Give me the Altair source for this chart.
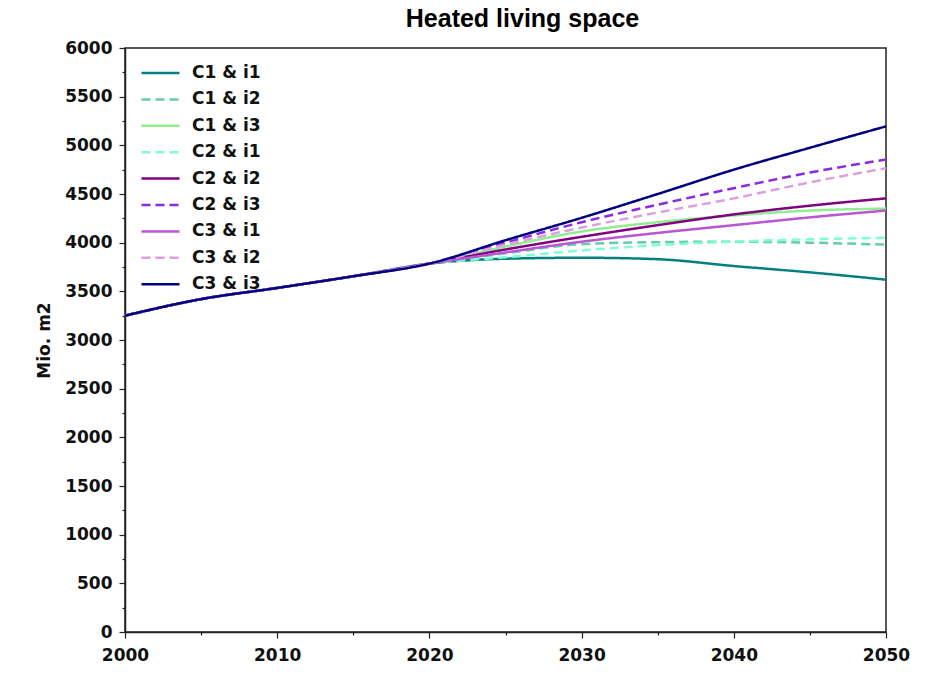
import altair as alt
import pandas as pd

# ---- data ----
hist_years = [2000, 2005, 2010, 2015, 2020]
hist_values = [3250, 3420, 3535, 3655, 3785]

future_years = [2025, 2030, 2035, 2040, 2045, 2050]

series_names = ["C1 & i1", "C1 & i2", "C1 & i3",
                "C2 & i1", "C2 & i2", "C2 & i3",
                "C3 & i1", "C3 & i2", "C3 & i3"]

c1_i1 = [3835, 3845, 3830, 3760, 3695, 3620]
c1_i2 = [3890, 3985, 4005, 4010, 4000, 3980]
c1_i3 = [3960, 4115, 4210, 4280, 4330, 4350]
c2_i1 = [3850, 3920, 3975, 4010, 4035, 4050]
c2_i2 = [3930, 4060, 4180, 4290, 4380, 4455]
c2_i3 = [4000, 4210, 4390, 4560, 4720, 4855]
c3_i1 = [3900, 4010, 4100, 4180, 4260, 4330]
c3_i2 = [3980, 4155, 4310, 4455, 4620, 4765]
c3_i3 = [4025, 4255, 4500, 4750, 4975, 5195]

future_values = [c1_i1, c1_i2, c1_i3, c2_i1, c2_i2, c2_i3, c3_i1, c3_i2, c3_i3]

colors = ["#008080", "#66cdaa", "#90ee90",
          "#7fffd4", "#800080", "#8a2be2",
          "#ba55d3", "#dda0dd", "#000080"]
dashed = [False, True, False, True, False, True, False, True, False]

rows = []
for name, vals in zip(series_names, future_values):
    for y, v in zip(hist_years, hist_values):
        rows.append({"series": name, "year": y, "value": v})
    for y, v in zip(future_years, vals):
        rows.append({"series": name, "year": y, "value": v})
df = pd.DataFrame(rows)

dash_range = [[9, 5] if d else [1, 0] for d in dashed]

FONT = "DejaVu Sans"
FRAME = "#222222"

legend = alt.Legend(
    title=None, orient="none", legendX=15, legendY=13,
    symbolType="stroke", symbolSize=1444, symbolStrokeWidth=2.5,
    labelFont=FONT, labelFontWeight="bold", labelFontSize=17, labelColor="#111",
    labelOffset=11, clipHeight=24, rowPadding=2.4, padding=0,
)

chart = alt.Chart(df).mark_line(strokeWidth=2.5, interpolate="monotone").encode(
    x=alt.X("year:Q",
            scale=alt.Scale(domain=[2000, 2050], nice=False, zero=False),
            axis=alt.Axis(
                title=None,
                values=list(range(2000, 2051, 5)),
                labelExpr="datum.value % 10 === 0 ? datum.label : ''",
                format="d",
                tickSize={"condition": {"test": "datum.value % 10 === 0", "value": 6}, "value": 3},
                labelPadding=9, labelFlush=False,
                labelFont=FONT, labelFontWeight="bold", labelFontSize=17, labelColor="#111",
                domainColor=FRAME, domainWidth=1.5, tickColor=FRAME, tickWidth=1.2,
                grid=False)),
    y=alt.Y("value:Q",
            scale=alt.Scale(domain=[0, 6000], nice=False),
            axis=alt.Axis(
                title="Mio. m2",
                values=list(range(0, 6001, 250)),
                labelExpr="datum.value % 500 === 0 ? datum.label : ''",
                format="d",
                tickSize={"condition": {"test": "datum.value % 500 === 0", "value": 6}, "value": 3},
                labelPadding=7, labelFlush=False,
                labelFont=FONT, labelFontWeight="bold", labelFontSize=17, labelColor="#111",
                titleFont=FONT, titleFontWeight="bold", titleFontSize=17, titleColor="#111",
                titlePadding=11,
                domainColor=FRAME, domainWidth=1.5, tickColor=FRAME, tickWidth=1.2,
                grid=False)),
    color=alt.Color("series:N", scale=alt.Scale(domain=series_names, range=colors), legend=legend),
    strokeDash=alt.StrokeDash("series:N", scale=alt.Scale(domain=series_names, range=dash_range), legend=legend),
).properties(
    width=761, height=584,
    autosize=alt.AutoSizeParams(type="none"),
    padding={"left": 125, "top": 48, "right": 48, "bottom": 53},
    title=alt.Title("Heated living space", font="Liberation Sans", fontSize=25,
                    fontWeight="bold", color="#000", anchor="middle", dx=17, offset=7),
).configure_view(stroke=FRAME, strokeWidth=1.5)

chart.save("out.html", embed_options={"renderer": "svg", "actions": False})
